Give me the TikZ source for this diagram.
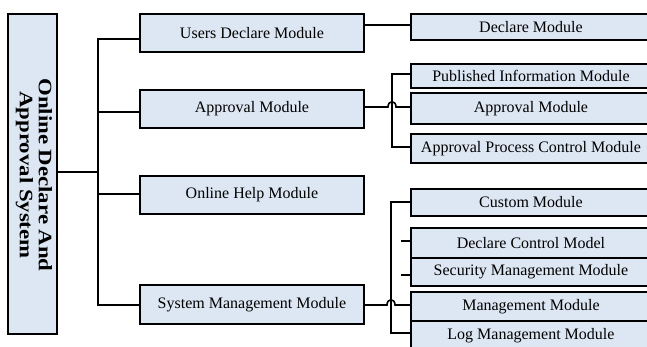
\documentclass[tikz,border=0pt]{standalone}
\usepackage{fontspec}
\setmainfont{Liberation Serif}
\usepackage{graphicx}
\definecolor{boxblue}{HTML}{DDE7F3}
\begin{document}
\begin{tikzpicture}[x=1pt,y=-1pt,
  box/.style={draw=black, line width=1.9pt, fill=boxblue, inner sep=0pt, anchor=north west,
    font=\fontsize{16}{18}\selectfont},
  link/.style={draw=black, line width=1.6pt},
  roottext/.style={rotate=-90, align=center, inner sep=0pt,
    font=\fontsize{19}{19}\selectfont\bfseries}]
\useasboundingbox (0,0) rectangle (647,347);
\clip (0,0) rectangle (647,347);
% root
\node[box, minimum width=49pt, minimum height=320pt] (root) at (7,13) {};
\node[roottext] (rtext) at (34,175) {\scalebox{1.2}[1]{Online Declare And}\\\scalebox{1.2}[1]{Approval System}};
% level 1
\node[box, minimum width=224pt, minimum height=38pt] (u) at (139,13) {Users Declare Module};
\node[box, minimum width=224pt, minimum height=38pt] (a) at (139,89) {Approval Module};
\node[box, minimum width=224pt, minimum height=38pt] (h) at (139,175) {Online Help Module};
\node[box, minimum width=224pt, minimum height=39pt] (s) at (139,284) {System Management Module};
% level 2
\node[box, minimum width=240pt, minimum height=26pt] (dm) at (410,13) {Declare Module};
\node[box, minimum width=240pt, minimum height=24pt] (pi) at (410,63) {Published Information Module};
\node[box, minimum width=240pt, minimum height=31pt] (am) at (410,92) {Approval Module};
\node[box, minimum width=240pt, minimum height=29pt] (apc) at (410,133) {Approval Process Control Module};
\node[box, minimum width=240pt, minimum height=27pt] (cm) at (410,188) {Custom Module};
\node[box, minimum width=240pt, minimum height=30pt] (dc) at (410,227) {Declare Control Model};
\node[box, minimum width=240pt, minimum height=28pt] (sec) at (410,257) {Security Management Module};
\node[box, minimum width=240pt, minimum height=29pt] (mm) at (410,291) {Management Module};
\node[box, minimum width=240pt, minimum height=29pt] (lm) at (410,320) {Log Management Module};
% trunk
\coordinate (rj) at (98,172);
\coordinate (t1) at (98,39);
\coordinate (t2) at (98,112);
\coordinate (t3) at (98,194);
\coordinate (t4) at (98,305);
\draw[link] (root.east |- rj) -- (rj);
\draw[link] (t1 -| u.west) -- (t1) -- (t4) -- (t4 -| s.west);
\draw[link] (t2) -- (t2 -| a.west);
\draw[link] (t3) -- (t3 -| h.west);
% users -> declare
\coordinate (uy) at (385,25);
\draw[link] (u.east |- uy) -- (uy -| dm.west);
% approval bus
\coordinate (ab1) at (392,74);
\coordinate (ab2) at (392,147);
\draw[link] (ab1 -| pi.west) -- (ab1) -- (ab2) -- (ab2 -| apc.west);
\coordinate (ah1) at (388,107);
\coordinate (ah2) at (396,107);
\draw[link] (a.east |- ah1) -- (ah1) .. controls +(0,-7) and +(0,-7) .. (ah2) -- (ah2 -| am.west);
% system bus
\coordinate (sb1) at (391,202);
\coordinate (sb2) at (391,333);
\draw[link] (sb1 -| cm.west) -- (sb1) -- (sb2) -- (sb2 -| lm.west);
\coordinate (sh1) at (387,305);
\coordinate (sh2) at (395,305);
\draw[link] (s.east |- sh1) -- (sh1) .. controls +(0,-7) and +(0,-7) .. (sh2) -- (sh2 -| mm.west);
\coordinate (k1) at (401,241);
\coordinate (k2) at (401,275);
\draw[link] (k1) -- (k1 -| dc.west);
\draw[link] (k2) -- (k2 -| sec.west);
\end{tikzpicture}
\end{document}
